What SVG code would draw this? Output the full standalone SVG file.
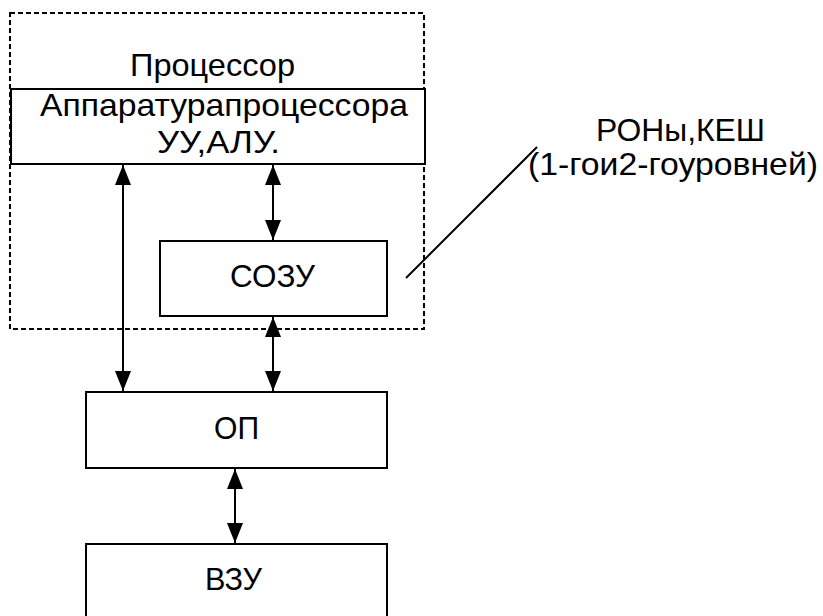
<svg xmlns="http://www.w3.org/2000/svg" width="823" height="616" viewBox="0 0 823 616">
  <style>
    .box { fill: #fff; stroke: #000; stroke-width: 2; }
    .frame { fill: none; stroke: #000; stroke-width: 2; stroke-dasharray: 5 3; }
    .lbl { font-family: "Liberation Sans", Arial, sans-serif; font-size: 32px; fill: #000; }
    .wire { stroke: #000; stroke-width: 2; fill: none; }
  </style>
  <defs>
    <marker id="ah" viewBox="0 0 20 16" refX="20" refY="8" markerWidth="20" markerHeight="16" markerUnits="userSpaceOnUse" orient="auto-start-reverse">
      <path d="M0,0 L20,8 L0,16 Z" fill="#000"/>
    </marker>
  </defs>
  <rect width="823" height="616" fill="#fff"/>

  <g id="processor">
    <rect class="frame" x="10" y="13" width="414" height="316"/>
    <text class="lbl" x="130" y="76" textLength="165" lengthAdjust="spacingAndGlyphs">Процессор</text>
  </g>

  <g id="hardware">
    <rect class="box" x="11" y="89" width="414" height="75"/>
    <text class="lbl" x="40" y="116" textLength="368" lengthAdjust="spacingAndGlyphs">Аппаратурапроцессора</text>
    <text class="lbl" x="157" y="153" textLength="123" lengthAdjust="spacingAndGlyphs">УУ,АЛУ.</text>
  </g>

  <g id="sozu">
    <rect class="box" x="160" y="241" width="227" height="75"/>
    <text class="lbl" x="230" y="287" textLength="85" lengthAdjust="spacingAndGlyphs">СОЗУ</text>
  </g>

  <g id="op">
    <rect class="box" x="86" y="392" width="301" height="76"/>
    <text class="lbl" x="214" y="439" textLength="45" lengthAdjust="spacingAndGlyphs">ОП</text>
  </g>

  <g id="vzu">
    <rect class="box" x="86" y="544" width="301" height="80"/>
    <text class="lbl" x="205" y="590" textLength="57" lengthAdjust="spacingAndGlyphs">ВЗУ</text>
  </g>

  <g id="note">
    <text class="lbl" x="596" y="141" textLength="169" lengthAdjust="spacingAndGlyphs">РОНы,КЕШ</text>
    <text class="lbl" x="528" y="175" textLength="290" lengthAdjust="spacingAndGlyphs">(1-гои2-гоуровней)</text>
  </g>

  <g id="connectors">
    <line class="wire" x1="123" y1="165" x2="123" y2="391" marker-start="url(#ah)" marker-end="url(#ah)"/>
    <line class="wire" x1="273" y1="165" x2="273" y2="240" marker-start="url(#ah)" marker-end="url(#ah)"/>
    <line class="wire" x1="273" y1="317" x2="273" y2="391" marker-start="url(#ah)" marker-end="url(#ah)"/>
    <line class="wire" x1="235" y1="469" x2="235" y2="543" marker-start="url(#ah)" marker-end="url(#ah)"/>
    <line class="wire" x1="406" y1="278" x2="537" y2="147"/>
  </g>
</svg>
